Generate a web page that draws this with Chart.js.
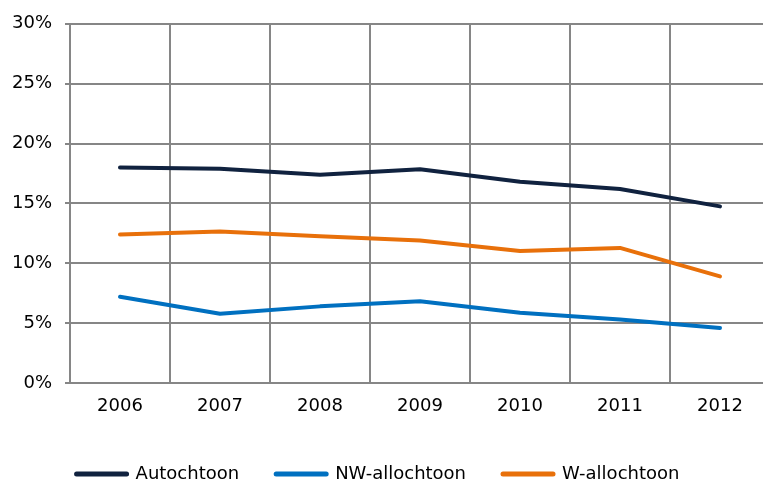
<!DOCTYPE html>
<html>
<head>
<meta charset="utf-8">
<script src="https://cdn.jsdelivr.net/npm/chart.js@4"></script>
<style>
  html, body { margin: 0; padding: 0; background: #fff; overflow: hidden; }
  #wrap { width: 763px; height: 485px; overflow: hidden; }
</style>
</head>
<body>
<div id="wrap"><canvas id="grafiek" width="800" height="485"></canvas></div>
<script>
var jaren = ['2006', '2007', '2008', '2009', '2010', '2011', '2012'];
var autochtoon = [18.0, 17.9, 17.4, 17.85, 16.8, 16.2, 14.75];
var nwAllochtoon = [7.2, 5.78, 6.4, 6.83, 5.87, 5.3, 4.6];
var wAllochtoon = [12.4, 12.65, 12.25, 11.9, 11.03, 11.28, 8.9];
var yTicks = [0, 5, 10, 15, 20, 25, 30];

var rasterKleur = '#868686';

function lijn(label, data, kleur){
    return {
        label: label,
        data: data,
        borderColor: kleur,
        backgroundColor: kleur,
        borderWidth: 4,
        borderCapStyle: 'round',
        borderJoinStyle: 'round',
        pointRadius: 0,
        tension: 0
    };
}

// legenda iets verschuiven zodat hij op de zichtbare breedte gecentreerd staat
var legendaPlek = {
    id: 'legendaPlek',
    afterLayout: function(chart){
        var lg = chart.legend;
        lg.left -= 7; lg.right -= 7;
        lg.top += 8; lg.bottom += 8;
    }
};

var ctx = document.getElementById('grafiek');
var grafiek = new Chart(ctx, {
    type: 'line',
    data: {
        labels: jaren,
        datasets: [
            lijn('Autochtoon', autochtoon, '#10223f'),
            lijn('NW-allochtoon', nwAllochtoon, '#0070c0'),
            lijn('W-allochtoon', wAllochtoon, '#e8700a')
        ]
    },
    plugins: [legendaPlek],
    options: {
        responsive: false,
        animation: false,
        layout: { padding: { top: 23, right: 30, left: 0, bottom: 0 } },
        plugins: {
            tooltip: { enabled: false },
            legend: {
                position: 'bottom',
                labels: {
                    usePointStyle: true,
                    pointStyle: 'line',
                    pointStyleWidth: 50,
                    padding: 37,
                    color: '#000',
                    font: { family: 'DejaVu Sans', size: 18 },
                    generateLabels: function(chart){
                        var items = Chart.defaults.plugins.legend.labels.generateLabels(chart);
                        items.forEach(function(it){
                            it.lineWidth = 5;
                            it.lineCap = 'round';
                        });
                        return items;
                    }
                }
            }
        },
        scales: {
            x: {
                offset: true,
                grid: { color: rasterKleur, lineWidth: 2, drawTicks: false, offset: true },
                border: { color: rasterKleur, width: 2 },
                ticks: {
                    color: '#000',
                    padding: 13,
                    maxRotation: 0,
                    font: { family: 'DejaVu Sans', size: 18 }
                },
                afterFit: function(scale){ scale.height = 37; }
            },
            y: {
                min: 0,
                max: 30,
                afterBuildTicks: function(scale){
                    scale.ticks = yTicks.map(function(v){ return { value: v }; });
                },
                grid: { color: rasterKleur, lineWidth: 2, drawTicks: true, tickLength: 5 },
                border: { color: rasterKleur, width: 2 },
                ticks: {
                    color: '#000',
                    padding: 13,
                    font: { family: 'DejaVu Sans', size: 18 },
                    callback: function(v){ return v + '%'; }
                },
                afterFit: function(scale){ scale.width = 70; }
            }
        }
    }
});
</script>
</body>
</html>
